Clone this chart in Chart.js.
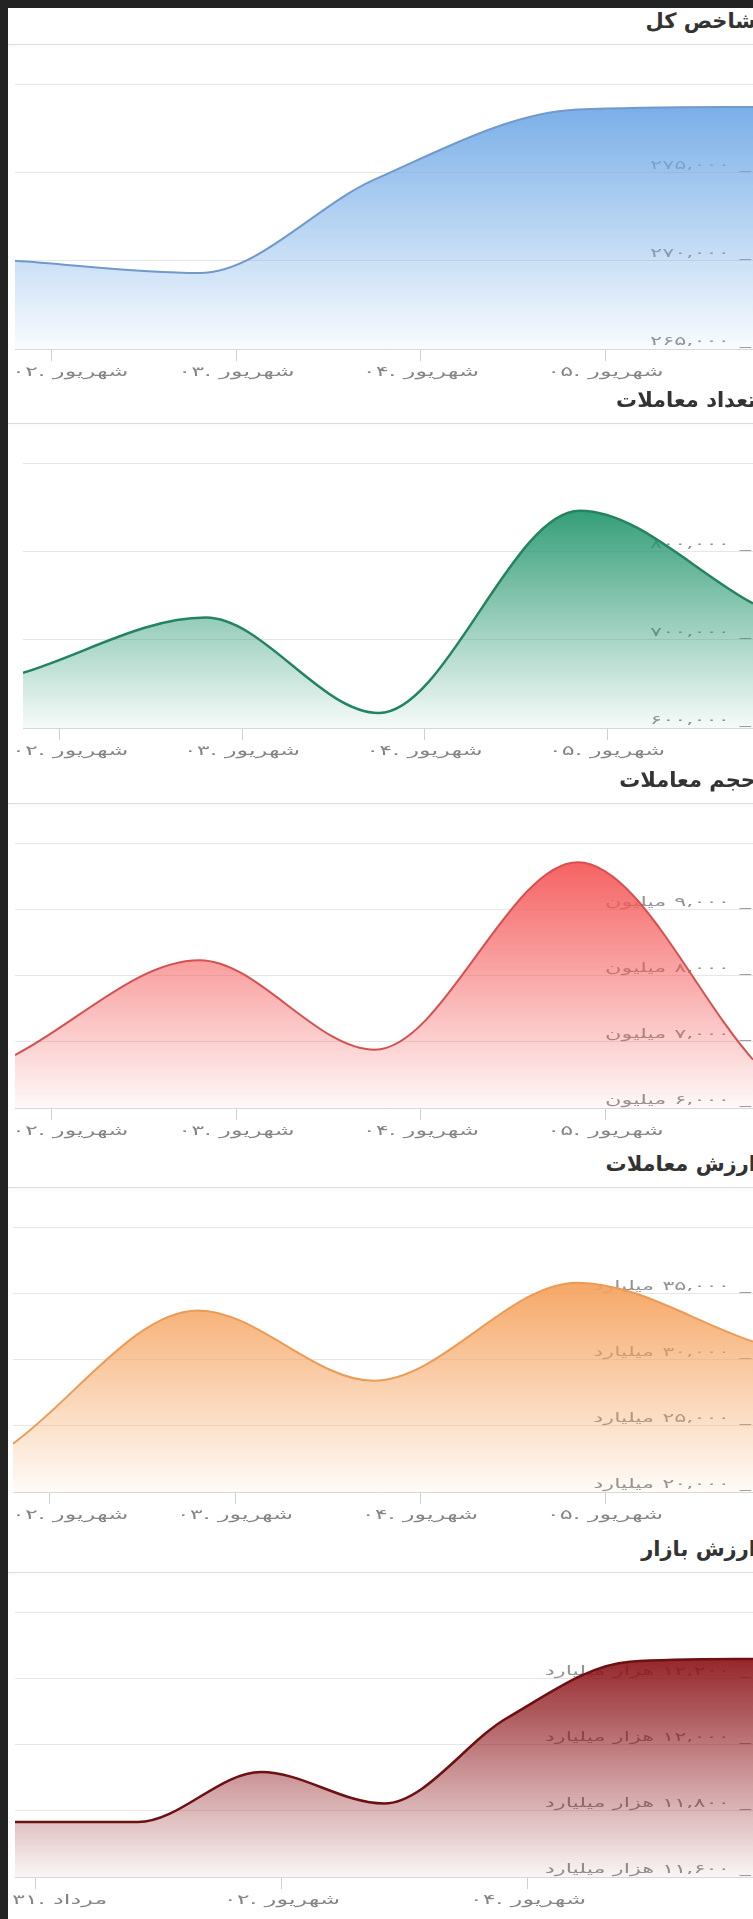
<!DOCTYPE html>
<html lang="fa">
<head>
  <meta charset="UTF-8">
  <title>نمودارهای بازار</title>
  <script src="https://cdn.jsdelivr.net/npm/chart.js"></script>
  <style>
    html, body { margin: 0; padding: 0; overflow: hidden; background: #232323; }
    body { width: 753px; height: 1919px; position: relative; font-family: "DejaVu Sans", sans-serif; }
    .sheet { position: absolute; left: 8px; top: 8px; width: 770px; height: 1930px; background: #fff; }
    .panel { position: absolute; left: 0; width: 770px; }
    .title { position: absolute; right: 22px; top: -41px; height: 36px; line-height: 36px;
             font-weight: bold; font-size: 21px; color: #333; direction: rtl; white-space: nowrap; }
    .rule { position: absolute; left: 0; right: 0; top: 0; border-top: 1px solid #dcdcdc;
            box-shadow: 0 2px 3px rgba(0, 0, 0, 0.06); }
    canvas { position: absolute; left: 0; top: 0; }
  </style>
</head>
<body>
  <div class="sheet">
    <div class="panel" style="top:36px">
      <div class="title">شاخص کل</div><div class="rule"></div>
      <canvas id="c1" width="745" height="340"></canvas>
    </div>
    <div class="panel" style="top:415px">
      <div class="title">تعداد معاملات</div><div class="rule"></div>
      <canvas id="c2" width="745" height="340"></canvas>
    </div>
    <div class="panel" style="top:795px">
      <div class="title">حجم معاملات</div><div class="rule"></div>
      <canvas id="c3" width="745" height="340"></canvas>
    </div>
    <div class="panel" style="top:1179px">
      <div class="title">ارزش معاملات</div><div class="rule"></div>
      <canvas id="c4" width="745" height="340"></canvas>
    </div>
    <div class="panel" style="top:1564px">
      <div class="title">ارزش بازار</div><div class="rule"></div>
      <canvas id="c5" width="745" height="340"></canvas>
    </div>
  </div>

  <script>
    // days of Shahrivar (31 Mordad = 0), one sample per evening
    const days = [1.8, 2.8, 3.75, 4.85, 5.8];
    const tickDays = [2, 3, 4, 5];
    const tickNames = ['۰۲. شهریور', '۰۳. شهریور', '۰۴. شهریور', '۰۵. شهریور'];

    const indexValues = [270000, 269300, 274600, 278550, 278700];
    const tradeCount = [662500, 725000, 617000, 846000, 741000];
    const tradeVolume = [6800, 8230, 6880, 9710, 6730];      // million
    const tradeValue = [23650, 33700, 28400, 35800, 31350];  // billion

    const marketDays = [-0.17, 0.83, 1.83, 2.83, 3.83, 4.83, 5.83];
    const marketTickDays = [0, 2, 4];
    const marketTickNames = ['۳۱. مرداد', '۰۲. شهریور', '۰۴. شهریور'];
    const marketValue = [11766, 11766, 11917, 11822, 12080, 12250, 12258]; // thousand billion

    const faDigits = '۰۱۲۳۴۵۶۷۸۹';
    function toFa(n) {
      return String(n).replace(/\B(?=(\d{3})+(?!\d))/g, ',').replace(/\d/g, d => faDigits[d]);
    }

    // the labels in the original are set in a wide Persian face, so stretch ours
    function wideText(ctx, text, x, y, stretch, align) {
      const w = ctx.measureText(text).width * stretch;
      ctx.save();
      ctx.translate(align === 'right' ? x - w : x, y);
      ctx.scale(stretch, 1);
      ctx.textAlign = 'left';
      ctx.fillText(text, 0, 0);
      ctx.restore();
      return w;
    }

    // date labels under the x axis, first one kept inside the card
    const dayLabels = {
      id: 'dayLabels',
      afterDraw(chart, args, opts) {
        const x = chart.scales.x;
        const ctx = chart.ctx;
        ctx.save();
        ctx.font = '13.5px "DejaVu Sans"';
        ctx.fillStyle = '#858585';
        ctx.textBaseline = 'middle';
        opts.values.forEach((v, i) => {
          const w = ctx.measureText(opts.names[i]).width * 1.78;
          const left = Math.max(x.getPixelForValue(v) - w / 2, 4);
          wideText(ctx, opts.names[i], left, chart.chartArea.bottom + 23, 1.78, 'left');
        });
        ctx.restore();
      }
    };

    // value labels inside the plot on the right, drawn under the area fill
    const sideLabels = {
      id: 'sideLabels',
      beforeDatasetsDraw(chart, args, opts) {
        const y = chart.scales.y;
        const ctx = chart.ctx;
        const right = chart.chartArea.right - 2;
        ctx.save();
        ctx.font = '12.5px "DejaVu Sans"';
        ctx.fillStyle = '#939393';
        ctx.textBaseline = 'middle';
        y.ticks.forEach(t => {
          if (t.value === y.max) return;
          const py = y.getPixelForValue(t.value) - 7;
          let r = right - wideText(ctx, '_', right, py, 1.8, 'right') - 10;
          r -= wideText(ctx, toFa(t.value), r, py, 1.8, 'right');
          if (opts.unit) wideText(ctx, opts.unit, r - 8, py, 1.8, 'right');
        });
        ctx.restore();
      }
    };

    function areaFill(rgb) {
      return (c) => {
        const chart = c.chart;
        const area = chart.chartArea;
        if (!area) return null;
        const ys = chart.data.datasets[0].data.map(p => p.y);
        const top = chart.scales.y.getPixelForValue(Math.max(...ys));
        const g = chart.ctx.createLinearGradient(0, top, 0, area.bottom);
        g.addColorStop(0, `rgba(${rgb},0.92)`);
        g.addColorStop(1, `rgba(${rgb},0.04)`);
        return g;
      };
    }

    function makeChart(id, p) {
      new Chart(document.getElementById(id), {
        type: 'line',
        data: {
          datasets: [{
            data: p.days.map((d, i) => ({ x: d, y: p.values[i] })),
            borderColor: p.line,
            borderWidth: p.width,
            backgroundColor: areaFill(p.rgb),
            fill: 'start',
            pointRadius: 0,
            cubicInterpolationMode: 'monotone'
          }]
        },
        options: {
          responsive: false,
          devicePixelRatio: 1,
          animation: false,
          events: [],
          layout: { padding: { left: p.left, right: 0, top: 40, bottom: 23 } },
          plugins: {
            legend: { display: false },
            tooltip: { enabled: false },
            dayLabels: { values: p.tickDays, names: p.tickNames },
            sideLabels: { unit: p.unit }
          },
          scales: {
            x: {
              type: 'linear',
              min: p.days[0],
              max: p.days[p.days.length - 1],
              afterBuildTicks: (s) => { s.ticks = p.tickDays.map(v => ({ value: v })); },
              ticks: { display: false },
              grid: { drawOnChartArea: false, drawTicks: true, tickLength: 12, color: '#d0d0d0' },
              border: { display: true, color: '#d8d8d8' }
            },
            y: {
              position: 'right',
              min: p.min,
              max: p.max,
              ticks: { stepSize: p.step, display: false },
              grid: { color: '#e6e6e6', drawTicks: false },
              border: { display: false }
            }
          }
        },
        plugins: [dayLabels, sideLabels]
      });
    }

    makeChart('c1', { days, values: indexValues, tickDays, tickNames, min: 265000, max: 280000, step: 5000,
      unit: '', rgb: '111,168,230', line: '#7099cc', width: 2, left: 7 });
    makeChart('c2', { days, values: tradeCount, tickDays, tickNames, min: 600000, max: 900000, step: 100000,
      unit: '', rgb: '36,150,110', line: '#23855f', width: 2.5, left: 15 });
    makeChart('c3', { days, values: tradeVolume, tickDays, tickNames, min: 6000, max: 10000, step: 1000,
      unit: 'میلیون', rgb: '245,85,85', line: '#d65050', width: 2, left: 7 });
    makeChart('c4', { days, values: tradeValue, tickDays, tickNames, min: 20000, max: 40000, step: 5000,
      unit: 'میلیارد', rgb: '245,160,90', line: '#ec9b55', width: 2, left: 5 });
    makeChart('c5', { days: marketDays, values: marketValue, tickDays: marketTickDays, tickNames: marketTickNames,
      min: 11600, max: 12400, step: 200, unit: 'هزار میلیارد', rgb: '140,20,25', line: '#6e0f12', width: 2.5, left: 7 });
  </script>
</body>
</html>
